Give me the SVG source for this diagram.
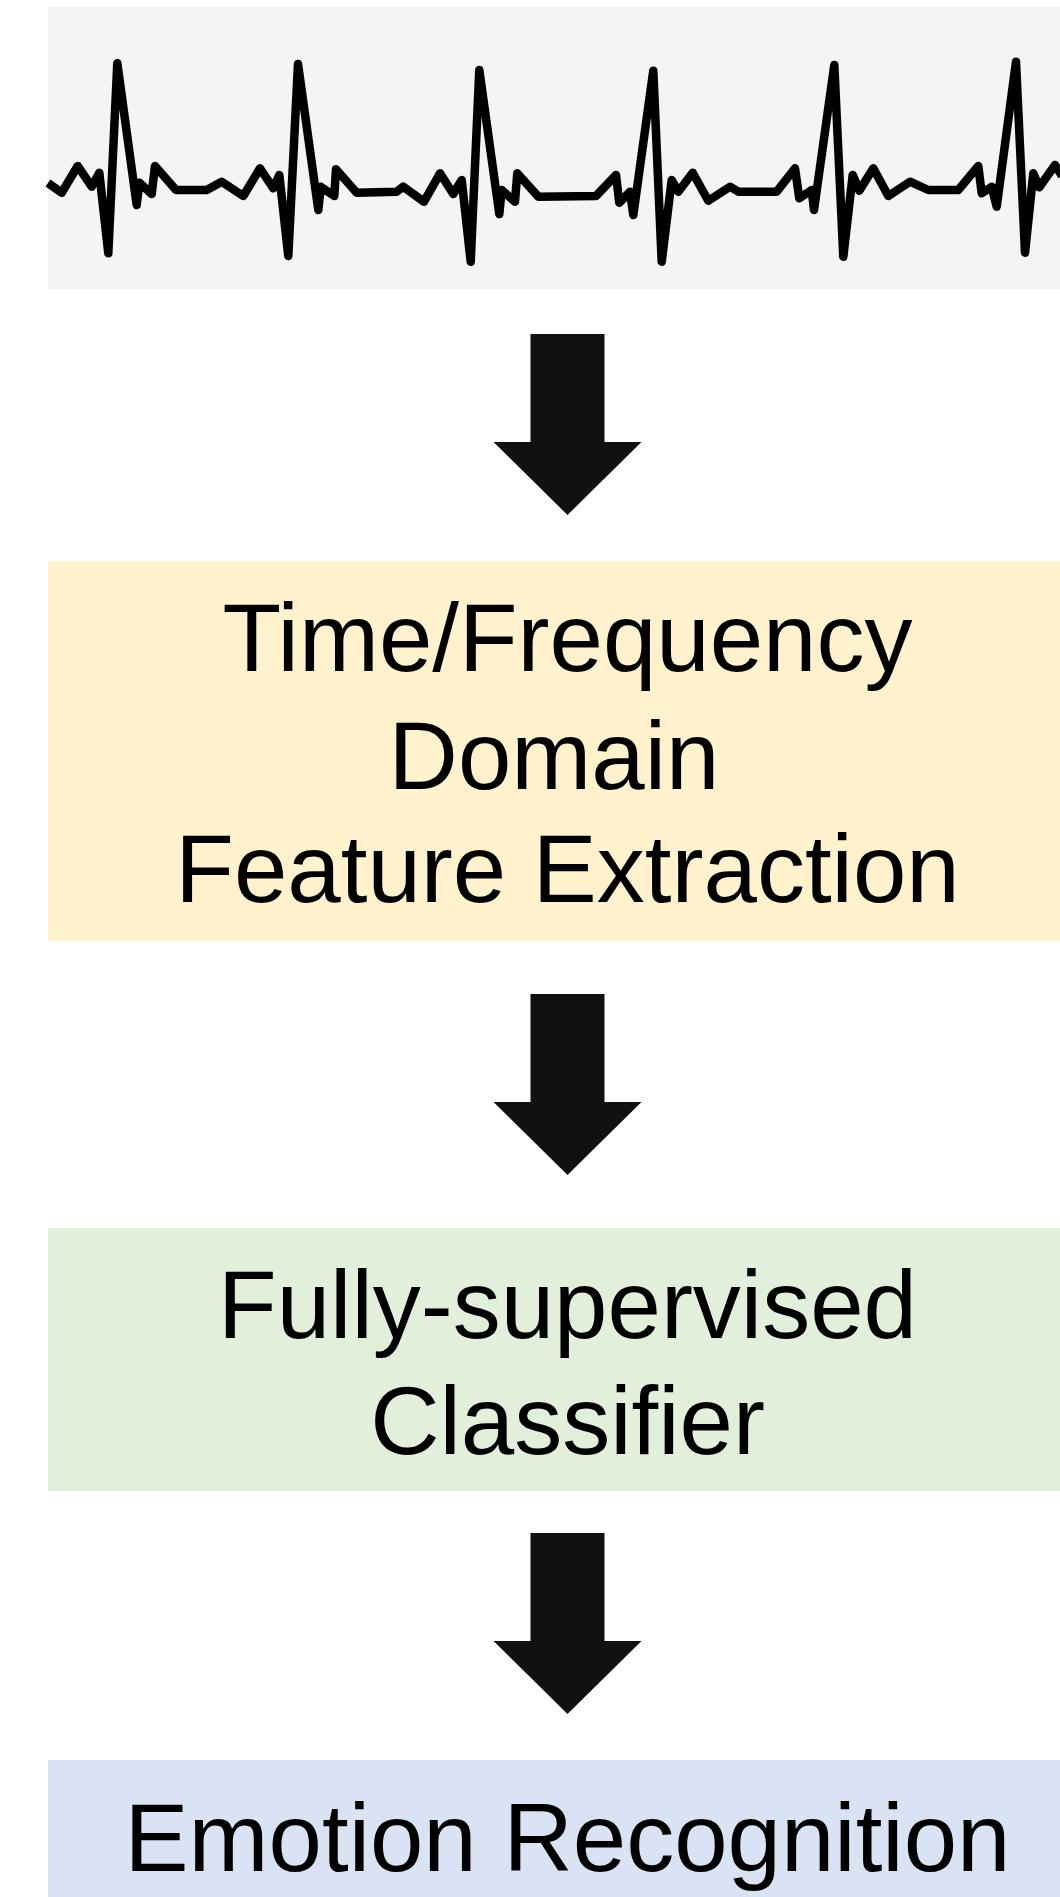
<svg xmlns="http://www.w3.org/2000/svg" width="1060" height="1897" viewBox="0 0 1060 1897">
  <style>
    .lbl { font-family: "Liberation Sans", Arial, sans-serif; font-size: 96px; fill: #000; text-anchor: middle; }
    .arrow { fill: #111111; }
    .ecg { fill: none; stroke: #000; stroke-width: 8.5; stroke-linejoin: round; stroke-linecap: butt; }
  </style>
  <defs>
    <path id="blockArrow" d="M-37,0 H37 V108 H74 L0,181 L-74,108 H-37 Z"/>
  </defs>
  <rect width="1060" height="1897" fill="#ffffff"/>

  <g id="node-ecg">
    <rect x="48" y="7" width="1020" height="282" fill="#f4f4f4"/>
    <polyline class="ecg" points="48,183 61.7,192.7 77.7,166 91.7,186.7 99.3,172.7 108.3,253.3 117.3,63.3 136.7,205 139.3,182.7 151.7,194 155,166 176,190 206.7,190 221.7,181.7 243.3,196 260,168.3 273.3,188.3 279.3,175 288.3,256 298,64 318.3,210 320.7,186.7 334.3,196 336,169.3 356.7,192.7 396.7,191.7 403.3,186.7 424,201.7 440,173.3 453.3,194 461.7,180 470.7,261.7 479.3,70 499.3,214 501.7,190 515,201.7 517.3,173.3 538.3,196.7 596,196 616,175 619.3,202.7 630,191.7 633.3,215 653.3,70.7 661.7,261.7 671.7,180 678.3,191.7 692.7,172.7 708.3,200.7 730,186.7 738.3,191.7 776.7,191.7 795,168.3 799.3,198.3 811.7,190 814,210 834.3,65 843.3,256.7 852.7,175 859.3,190.7 873.3,168.3 888.3,196 910,181.7 928.3,190 958.3,190 978.3,166 981.7,193.3 991.7,186.7 996.7,206.7 1016,61.7 1025,252.7 1033.3,173.3 1039.3,187.3 1055,165 1062,176"/>
  </g>

  <g id="node-feature">
    <rect x="48" y="561" width="1020" height="380" fill="#fff2cc"/>
    <text class="lbl" x="567.5" y="671">Time/Frequency</text>
    <text class="lbl" x="554" y="789">Domain</text>
    <text class="lbl" x="567.5" y="902">Feature Extraction</text>
  </g>

  <g id="node-classifier">
    <rect x="48" y="1228" width="1020" height="263" fill="#e2efda"/>
    <text class="lbl" x="567.5" y="1338">Fully-supervised</text>
    <text class="lbl" x="567.5" y="1454">Classifier</text>
  </g>

  <g id="node-emotion">
    <rect x="48" y="1760" width="1020" height="145" fill="#dae3f3"/>
    <text class="lbl" x="567.5" y="1871">Emotion Recognition</text>
  </g>

  <g id="connectors">
    <use href="#blockArrow" class="arrow" x="567.5" y="334"/>
    <use href="#blockArrow" class="arrow" x="567.5" y="994"/>
    <use href="#blockArrow" class="arrow" x="567.5" y="1533"/>
  </g>
</svg>
